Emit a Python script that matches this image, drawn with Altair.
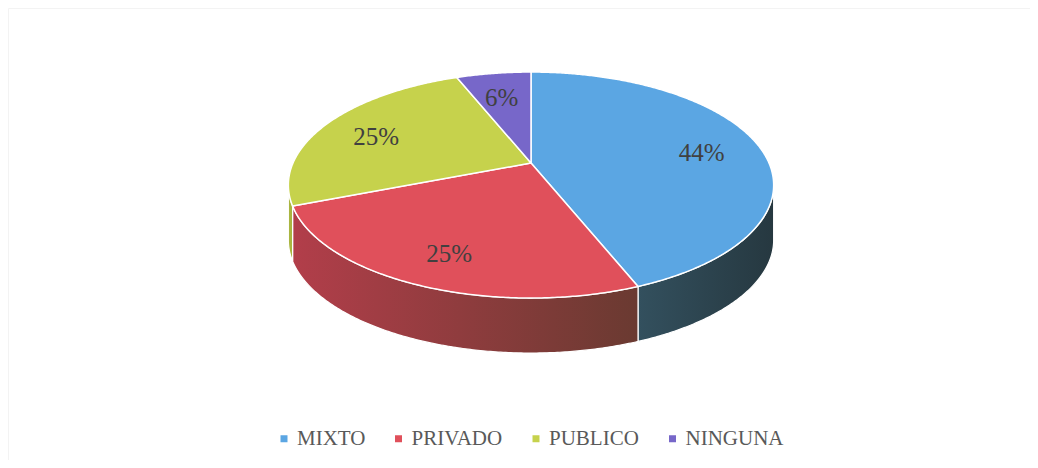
import math
import altair as alt
import pandas as pd

# ---- data ----
categories = ["MIXTO", "PRIVADO", "PUBLICO", "NINGUNA"]
values = [44, 25, 25, 6]
labels = ["44%", "25%", "25%", "6%"]

# ---- styling ----
top_colors = ["#5ba6e3", "#e0505b", "#c6d24c", "#7767c9"]
side_gradients = {
    "MIXTO": ["#33505e", "#263840"],
    "PRIVADO": ["#b23e4a", "#6a3a31"],
    "PUBLICO": ["#a9b540", "#a9b540"],
    "NINGUNA": ["#5a4c9c", "#5a4c9c"],
}

W, H = 1022, 452
CX, CY = 523, 155          # pie centre in plot coordinates
RX, RY = 238, 108.7        # radii of the tilted disc
K = 0.195                  # perspective factor
DEPTH = 55                 # thickness of the pie


def proj(theta_deg, r=1.0):
    t = math.radians(theta_deg)
    X, Z = r * math.sin(t), r * math.cos(t)
    d = 1 + K * Z
    return CX + RX * X / d, CY - RY * Z / d


def arc(a, b, step=0.5):
    n = max(2, int(math.ceil((b - a) / step)) + 1)
    return [a + (b - a) * i / (n - 1) for i in range(n)]


total = float(sum(values))
starts, ends = [], []
acc = 0.0
for v in values:
    starts.append(acc / total * 360)
    acc += v
    ends.append(acc / total * 360)

# top faces
top_rows = []
for c, a, b in zip(categories, starts, ends):
    o = 0
    x, y = proj(0, 0)
    top_rows.append(dict(cat=c, x=x, y=y, o=o)); o += 1
    for t in arc(a, b):
        x, y = proj(t)
        top_rows.append(dict(cat=c, x=x, y=y, o=o)); o += 1
    x, y = proj(0, 0)
    top_rows.append(dict(cat=c, x=x, y=y, o=o))
top_df = pd.DataFrame(top_rows)

# visible side walls
ta = math.degrees(math.acos(-K))
tb = 360 - ta
side_rows = []
for c, a, b in zip(categories, starts, ends):
    lo, hi = max(a, ta), min(b, tb)
    if lo >= hi:
        continue
    o = 0
    pts = arc(lo, hi)
    for t in pts:
        x, y = proj(t)
        side_rows.append(dict(cat=c, x=x, y=y, o=o)); o += 1
    for t in reversed(pts):
        x, y = proj(t)
        side_rows.append(dict(cat=c, x=x, y=y + DEPTH, o=o)); o += 1
    x, y = proj(lo)
    side_rows.append(dict(cat=c, x=x, y=y, o=o))
side_df = pd.DataFrame(side_rows)

# labels
lab_rows = []
for c, a, b, l in zip(categories, starts, ends, labels):
    x, y = proj((a + b) / 2, 0.75)
    lab_rows.append(dict(cat=c, x=x, y=y, label=l))
lab_df = pd.DataFrame(lab_rows)

xs = alt.Scale(domain=[0, W], nice=False, zero=False)
ys = alt.Scale(domain=[0, H], nice=False, zero=False, reverse=True)
X = alt.X("x:Q", scale=xs, axis=None)
Y = alt.Y("y:Q", scale=ys, axis=None)

layers = []
for c in side_df["cat"].unique():
    g = side_gradients[c]
    grad = alt.LinearGradient(
        gradient="linear",
        stops=[alt.GradientStop(color=g[0], offset=0), alt.GradientStop(color=g[1], offset=1)],
        x1=0, x2=1, y1=0, y2=0,
    )
    layers.append(
        alt.Chart(side_df)
        .transform_filter(alt.datum.cat == c)
        .mark_line(fill=grad, stroke="white", strokeWidth=1.2, strokeJoin="round")
        .encode(x=X, y=Y, order="o:Q")
    )

top = (
    alt.Chart(top_df)
    .mark_line(stroke="white", strokeWidth=1.5, strokeJoin="round", fillOpacity=1)
    .encode(
        x=X,
        y=Y,
        order="o:Q",
        detail="cat:N",
        fill=alt.Fill(
            "cat:N",
            scale=alt.Scale(domain=categories, range=top_colors),
            sort=categories,
            legend=alt.Legend(
                orient="none",
                direction="horizontal",
                legendX=265.5,
                legendY=420,
                title=None,
                symbolType="square",
                symbolSize=49,
                symbolStrokeWidth=0,
                labelFont="Liberation Serif",
                labelFontSize=21,
                labelColor="#595959",
                labelOffset=2.5,
                columnPadding=22.5,
            ),
        ),
    )
)
layers.append(top)

text = (
    alt.Chart(lab_df)
    .mark_text(font="Liberation Serif", fontSize=25, color="#404040", dy=5)
    .encode(x=X, y=Y, text="label:N")
)
layers.append(text)

chart = (
    alt.layer(*layers)
    .properties(width=W, height=H, padding=0)
    .configure_view(stroke="#f3f3f3")
)

chart.save("out.html", embed_options={"renderer": "svg", "actions": False})
